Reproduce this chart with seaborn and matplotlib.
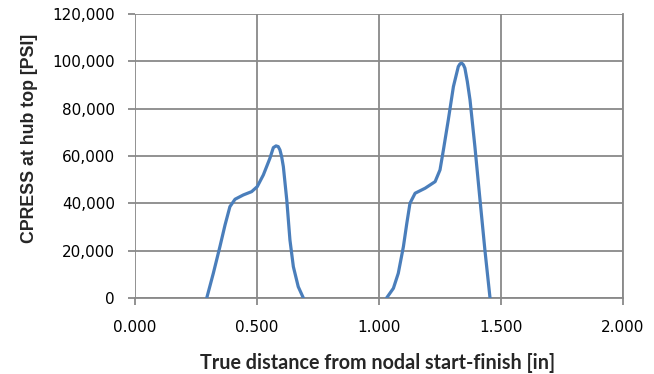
import numpy as np
import pandas as pd
import matplotlib
matplotlib.use("Agg")
import matplotlib.pyplot as plt
import seaborn as sns
from matplotlib.ticker import FuncFormatter, MultipleLocator

# Data (two contact zones)
x_zone1 = [0.294, 0.321, 0.348, 0.369, 0.389, 0.410, 0.444, 0.478, 0.501, 0.526,
           0.553, 0.567, 0.578, 0.587, 0.594, 0.601, 0.608, 0.622, 0.635, 0.649,
           0.669, 0.690]
y_zone1 = [0, 10440, 21690, 30860, 38600, 41730, 43550, 44940, 47060, 52000,
           59060, 63550, 64270, 63970, 62570, 59740, 55510, 41430, 24520, 13230,
           4780, 0]
x_zone2 = [1.031, 1.059, 1.079, 1.100, 1.114, 1.127, 1.148, 1.189, 1.230, 1.250,
           1.264, 1.284, 1.305, 1.325, 1.332, 1.339, 1.346, 1.352, 1.362, 1.373,
           1.393, 1.414, 1.434, 1.455]
y_zone2 = [0, 4100, 10440, 21690, 31580, 40040, 44270, 46380, 49170, 54120,
           62570, 75260, 89340, 97790, 98940, 99230, 98510, 97120, 91450, 83710,
           63970, 41430, 20290, 0]

x_label = "True distance from nodal start-finish [in]"
y_label = "CPRESS at hub top [PSI]"

df = pd.DataFrame({
    "x": x_zone1 + x_zone2,
    "y": y_zone1 + y_zone2,
    "zone": ["a"] * len(x_zone1) + ["b"] * len(x_zone2),
})

sns.set_theme(style="white")
plt.rcParams["font.family"] = ["DejaVu Sans"]

fig = plt.figure(figsize=(6.54, 3.74), dpi=100)
ax = fig.add_axes([135 / 654, 1 - 298 / 374, 488 / 654, 284 / 374])

grid_c = "#898989"
sns.lineplot(data=df, x="x", y="y", units="zone", estimator=None, sort=False,
             color="#4a7ebb", linewidth=2.3, ax=ax, zorder=3)

ax.set_xlim(0, 2.0)
ax.set_ylim(0, 120000)
ax.xaxis.set_major_locator(MultipleLocator(0.5))
ax.yaxis.set_major_locator(MultipleLocator(20000))
ax.xaxis.set_major_formatter(FuncFormatter(lambda v, p: f"{v:.3f}"))
ax.yaxis.set_major_formatter(FuncFormatter(lambda v, p: f"{int(round(v)):,}"))
ax.grid(True, color=grid_c, linewidth=1.3)
ax.set_axisbelow(True)
for s in ["left", "top"]:
    ax.spines[s].set_visible(False)
ax.spines["bottom"].set_color(grid_c)
ax.spines["bottom"].set_linewidth(1.3)
ax.spines["right"].set_color(grid_c)
ax.spines["right"].set_linewidth(1.3)
ax.tick_params(axis="both", which="major", length=5, width=1.3, color=grid_c,
               labelsize=11, labelcolor="#000000", direction="out")
ax.tick_params(axis="x", bottom=True, pad=10.5)
ax.tick_params(axis="y", left=True, pad=9.5)

ax.set_xlabel(x_label, fontsize=14.2, fontweight="bold", va="center", ha="center",
              family=["Lato", "DejaVu Sans"])
ax.xaxis.set_label_coords(0.497, (298 - 363) / 284)
ax.set_ylabel(y_label, fontsize=12.8, fontweight="bold", va="center", ha="center",
              family=["Liberation Sans", "DejaVu Sans"])
ax.yaxis.set_label_coords((30 - 135) / 488, (298 - 138) / 284)

fig.savefig("out.png", dpi=100)
